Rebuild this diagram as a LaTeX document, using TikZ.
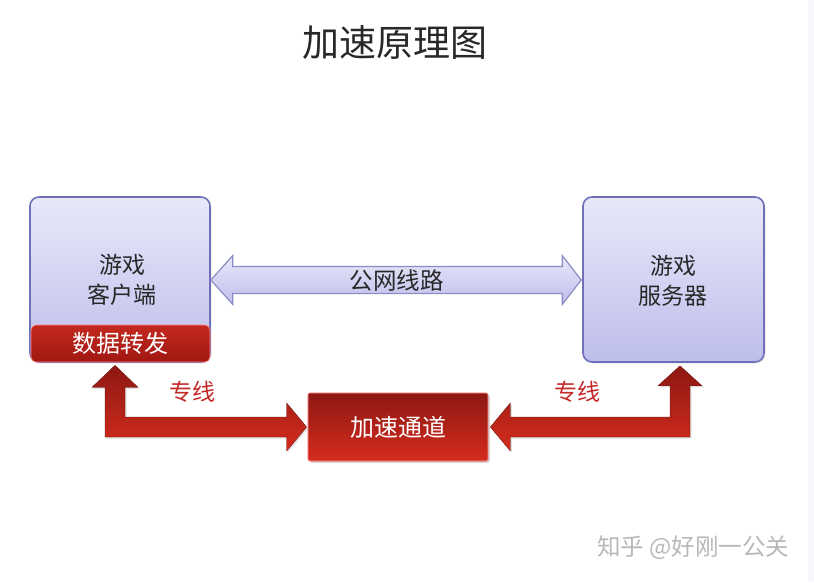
\documentclass[tikz,border=0pt]{standalone}
\usepackage{fontspec}
\setmainfont{Noto Sans CJK SC}
\usetikzlibrary{calc,shadows}
\definecolor{lavtop}{RGB}{232,232,249}
\definecolor{lavbot}{RGB}{190,190,236}
\definecolor{lavline}{RGB}{112,112,184}
\definecolor{redtop}{RGB}{140,24,18}
\definecolor{redbot}{RGB}{214,44,30}
\definecolor{barred}{RGB}{196,40,30}
\definecolor{bardark}{RGB}{160,24,18}
\definecolor{txt}{RGB}{40,40,40}
\definecolor{labred}{RGB}{196,40,36}
\definecolor{strip}{RGB}{246,248,252}
\tikzset{
  lavbox/.style={draw=lavline, line width=1.6pt, rounded corners=9pt,
    top color=lavtop, bottom color=lavbot, text=txt, align=center,
    font=\fontsize{23}{30}\selectfont,
    drop shadow={opacity=0.18, shadow xshift=1.5pt, shadow yshift=-1.5pt}},
  redbox/.style={draw=red!40!white, line width=0.6pt, rounded corners=2pt,
    top color=redtop, bottom color=redbot, text=white,
    font=\fontsize{24}{28}\selectfont,
    drop shadow={opacity=0.25, shadow xshift=1.5pt, shadow yshift=-1.5pt}},
  barbox/.style={draw=red!45!white, line width=0.6pt, rounded corners=5pt,
    top color=barred, bottom color=bardark, text=white,
    font=\fontsize{24}{28}\selectfont},
  lavarrow/.style={draw=lavline!80, line width=1.2pt, top color=lavtop, bottom color=lavbot},
  redarrow/.style={top color=redtop, bottom color=redbot, draw=redtop!70!black, line width=0.3pt,
    drop shadow={opacity=0.22, shadow xshift=1.5pt, shadow yshift=-1.5pt}},
  lbl/.style={text=labred, font=\fontsize{23}{28}\selectfont},
}
\begin{document}
\begin{tikzpicture}[x=1pt,y=-1pt]
\useasboundingbox (0,0) rectangle (814,582);
\fill[white] (0,0) rectangle (814,582);
\fill[strip] (808,0) rectangle (814,582);

\node[text=txt, font=\fontsize{37}{42}\selectfont] (title) at (395,42) {加速原理图};

\node[lavbox, minimum width=180pt, minimum height=165pt, text depth=0pt] (client) at (120,279.5) {};
\node[text=txt, align=center, font=\fontsize{23}{30}\selectfont] (clienttxt) at (122,280) {游戏\\客户端};
\node[barbox, minimum width=179pt, minimum height=37pt, inner sep=0pt] (fwd) at (120.5,343.5) {数据转发};

\node[lavbox, minimum width=181pt, minimum height=165pt] (server) at (673.5,279.5) {};
\node[text=txt, align=center, font=\fontsize{23}{30}\selectfont] (servertxt) at (673,281) {游戏\\服务器};

\node[redbox, minimum width=180pt, minimum height=68pt, inner sep=0pt] (acc) at (398,427) {};

% public line double arrow
\path[lavarrow] ($(client.east)+(0,0.5)$) -- ($(client.east)+(22,-24)$) -- ($(client.east)+(22,-13)$)
  -- ($(server.west)+(-20,-13)$) -- ($(server.west)+(-20,-24)$) -- ($(server.west)+(-1,0.5)$)
  -- ($(server.west)+(-20,25)$) -- ($(server.west)+(-20,14)$) -- ($(client.east)+(22,14)$)
  -- ($(client.east)+(22,25)$) -- cycle;
\node[text=txt, font=\fontsize{23.5}{28}\selectfont] (pub) at ($(client.east)!0.5!(server.west)+(0,1)$) {公网线路};

% dedicated lines
\coordinate (lt) at ($(fwd.south)+(-5.5,3)$);
\coordinate (rt) at ($(server.south)+(6.5,3)$);
\path[redarrow] (lt) -- ($(lt)+(23,22)$) -- ($(lt)+(10,22)$) -- ($(lt|-acc.west)+(10,-10)$)
  -- ($(acc.west)+(-21,-10)$) -- ($(acc.west)+(-21,-24)$) -- ($(acc.west)+(-1,0)$)
  -- ($(acc.west)+(-21,24)$) -- ($(acc.west)+(-21,10)$) -- ($(lt|-acc.west)+(-10,10)$)
  -- ($(lt)+(-10,22)$) -- ($(lt)+(-23,22)$) -- cycle;
\path[redarrow] ($(acc.east)+(2,0)$) -- ($(acc.east)+(22,-24)$) -- ($(acc.east)+(22,-10)$)
  -- ($(rt|-acc.east)+(-10,-10)$) -- ($(rt)+(-10,20)$) -- ($(rt)+(-22,20)$) -- (rt)
  -- ($(rt)+(22,20)$) -- ($(rt)+(10,20)$) -- ($(rt|-acc.east)+(10,10)$)
  -- ($(acc.east)+(22,10)$) -- ($(acc.east)+(22,24)$) -- cycle;
\node[redbox, minimum width=180pt, minimum height=68pt, inner sep=0pt, drop shadow={opacity=0}] (acc2) at (acc) {加速通道};

\node[lbl] (l1) at (192,392) {专线};
\node[lbl] (l2) at (577,392) {专线};

\node[text=black!28, font=\fontsize{23.5}{26}\selectfont] (wm) at (693,548) {知乎 @好刚一公关};
\end{tikzpicture}
\end{document}
